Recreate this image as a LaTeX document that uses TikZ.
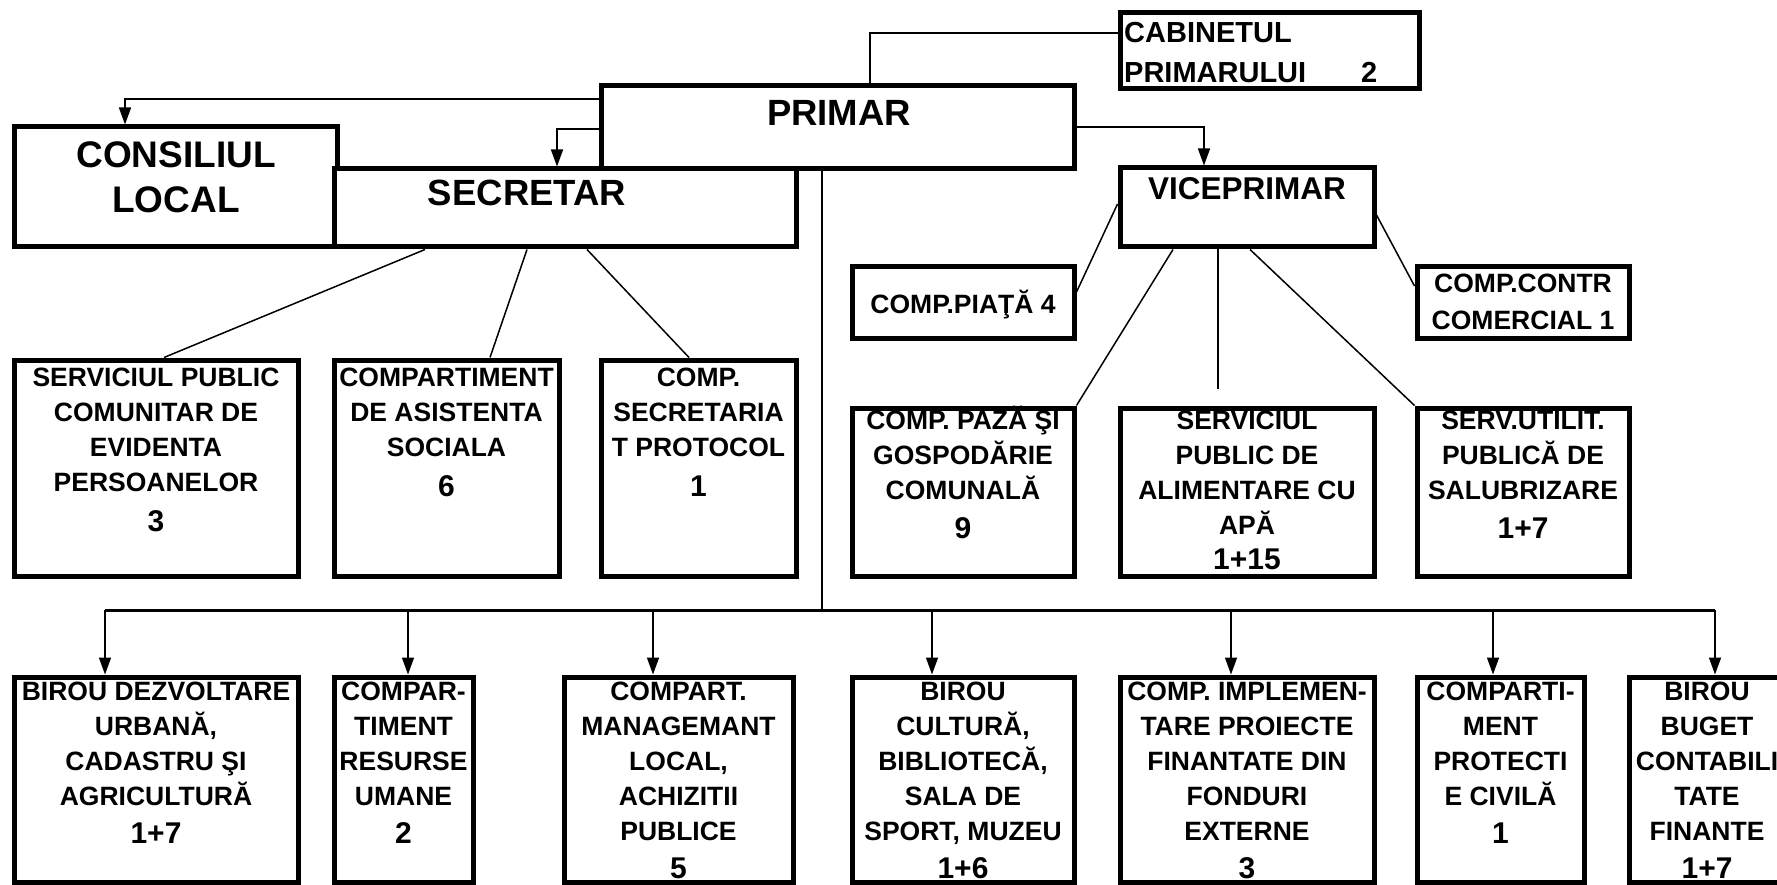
\documentclass[tikz,border=0pt]{standalone}
\usepackage{fontspec}
\setmainfont{Liberation Sans}
\usetikzlibrary{arrows.meta,calc}
\newcommand\nmb[1]{{\fontsize{30}{36}\selectfont #1}}
\newcommand\fl{\rule{0pt}{30pt}}
\begin{document}
\begin{tikzpicture}[x=1pt,y=-1pt,
  box/.style={draw, line width=5pt, fill=white, inner sep=0pt},
  lbl/.style={inner sep=0pt, align=center, anchor=north,
    font=\bfseries\fontsize{26.5}{35}\selectfont},
  big/.style={inner sep=0pt, anchor=base, font=\bfseries\fontsize{36.5}{45}\selectfont},
  conn/.style={line width=1.5pt},
  busline/.style={line width=3pt},
  arr/.style={line width=1.5pt, -{Triangle[length=17pt,width=12pt]}}]
\useasboundingbox (0,0) rectangle (1777,885);
\clip (0,0) rectangle (1777,885);
% boxes
\node[box, minimum width=299pt, minimum height=76pt] (cab) at (1269.5,51) {};
\node[box, minimum width=473pt, minimum height=83pt] (prim) at (837.5,127.5) {};
\node[box, minimum width=323pt, minimum height=120pt] (cons) at (175.5,187) {};
\node[box, minimum width=462pt, minimum height=78pt] (secretar) at (565,208) {};
\node[box, minimum width=254pt, minimum height=79pt] (vice) at (1247,207.5) {};
\node[box, minimum width=222pt, minimum height=71pt] (piata) at (963,302.5) {};
\node[box, minimum width=212pt, minimum height=71pt] (contr) at (1523,302.5) {};
\node[box, minimum width=284pt, minimum height=216pt] (serv) at (156,468) {};
\node[box, minimum width=225pt, minimum height=216pt] (asist) at (446.5,468) {};
\node[box, minimum width=195pt, minimum height=216pt] (secr) at (698.5,468) {};
\node[box, minimum width=222pt, minimum height=168pt] (paza) at (963,492) {};
\node[box, minimum width=254pt, minimum height=168pt] (apa) at (1247,492) {};
\node[box, minimum width=212pt, minimum height=168pt] (salub) at (1523,492) {};
\node[box, minimum width=284pt, minimum height=205pt] (urb) at (156,779.5) {};
\node[box, minimum width=139pt, minimum height=205pt] (ru) at (403.5,779.5) {};
\node[box, minimum width=229pt, minimum height=205pt] (man) at (678.5,779.5) {};
\node[box, minimum width=222pt, minimum height=205pt] (cult) at (963,779.5) {};
\node[box, minimum width=254pt, minimum height=205pt] (impl) at (1247,779.5) {};
\node[box, minimum width=167pt, minimum height=205pt] (prot) at (1500.5,779.5) {};
\node[box, minimum width=156pt, minimum height=205pt] (buget) at (1707,779.5) {};
% labels
\node[lbl, anchor=north west, align=left, font=\bfseries\fontsize{29}{40}\selectfont] (cab-t) at (1124,12) {\fl CABINETUL\\PRIMARULUI\hspace{55pt}2};
\node[big] (prim-t) at (839,126) {PRIMAR};
\node[lbl, font=\bfseries\fontsize{37}{45}\selectfont] (cons-t) at (176,137) {\fl CONSILIUL\\LOCAL};
\node[big] (secretar-t) at (527,206) {SECRETAR};
\node[big, font=\bfseries\fontsize{31.5}{40}\selectfont] (vice-t) at (1247,200) {VICEPRIMAR};
\node[big, font=\bfseries\fontsize{26.5}{35}\selectfont] (piata-t) at (963,313.5) {COMP.PIAŢĂ 4};
\node[lbl, font=\bfseries\fontsize{26.5}{37}\selectfont] (contr-t) at (1523,262.5) {\fl COMP.CONTR\\COMERCIAL 1};
\node[lbl] (serv-t) at (156,356.5) {\fl SERVICIUL PUBLIC\\COMUNITAR DE\\EVIDENTA\\PERSOANELOR\\[5pt]\nmb{3}};
\node[lbl] (asist-t) at (446.5,356.5) {\fl COMPARTIMENT\\DE ASISTENTA\\SOCIALA\\[5pt]\nmb{6}};
\node[lbl] (secr-t) at (698.5,356.5) {\fl COMP.\\SECRETARIA\\T PROTOCOL\\[5pt]\nmb{1}};
\node[lbl] (paza-t) at (963,399.5) {\fl COMP. PAZĂ ŞI\\GOSPODĂRIE\\COMUNALĂ\\[4pt]\nmb{9}};
\node[lbl] (apa-t) at (1247,399.5) {\fl SERVICIUL\\PUBLIC DE\\ALIMENTARE CU\\APĂ\\\nmb{1+15}};
\node[lbl] (salub-t) at (1523,399.5) {\fl SERV.UTILIT.\\PUBLICĂ DE\\SALUBRIZARE\\[4pt]\nmb{1+7}};
\node[lbl] (urb-t) at (156,670.5) {\fl BIROU DEZVOLTARE\\URBANĂ,\\CADASTRU ŞI\\AGRICULTURĂ\\[3pt]\nmb{1+7}};
\node[lbl] (ru-t) at (403.5,670.5) {\fl COMPAR-\\TIMENT\\RESURSE\\UMANE\\[3pt]\nmb{2}};
\node[lbl] (man-t) at (678.5,670.5) {\fl COMPART.\\MANAGEMANT\\LOCAL,\\ACHIZITII\\PUBLICE\\[3pt]\nmb{5}};
\node[lbl] (cult-t) at (963,670.5) {\fl BIROU\\CULTURĂ,\\BIBLIOTECĂ,\\SALA DE\\SPORT, MUZEU\\[3pt]\nmb{1+6}};
\node[lbl] (impl-t) at (1247,670.5) {\fl COMP. IMPLEMEN-\\TARE PROIECTE\\FINANTATE DIN\\FONDURI\\EXTERNE\\[3pt]\nmb{3}};
\node[lbl] (prot-t) at (1500.5,670.5) {\fl COMPARTI-\\MENT\\PROTECTI\\E CIVILĂ\\[3pt]\nmb{1}};
\node[lbl] (buget-t) at (1707,670.5) {\fl BIROU\\BUGET\\CONTABILI\\TATE\\FINANTE\\[3pt]\nmb{1+7}};
% connectors from PRIMAR
\draw[conn] ([xshift=32.5pt]prim.north) |- ([yshift=18pt]cab.west);
\draw[arr] ([yshift=28.5pt]prim.west) -| ([xshift=-50.5pt]cons.north);
\draw[arr] ([yshift=-1.5pt]prim.west) -| ([xshift=-8pt]secretar.north);
\draw[arr] ([yshift=0.5pt]prim.east) -| ([xshift=-43pt]vice.north);
\coordinate (bus) at (822,610);
\draw[conn] ([xshift=-15.5pt]prim.south) -- (bus);
\coordinate (busL) at ([xshift=-51pt]urb.north |- bus);
\coordinate (busR) at ([xshift=8pt]buget.north |- bus);
\draw[busline] (busL) -- (busR);
\draw[arr] ([xshift=-51pt]urb.north |- bus) -- ([xshift=-51pt]urb.north);
\draw[arr] ([xshift=4.5pt]ru.north |- bus) -- ([xshift=4.5pt]ru.north);
\draw[arr] ([xshift=-25.5pt]man.north |- bus) -- ([xshift=-25.5pt]man.north);
\draw[arr] ([xshift=-31pt]cult.north |- bus) -- ([xshift=-31pt]cult.north);
\draw[arr] ([xshift=-16pt]impl.north |- bus) -- ([xshift=-16pt]impl.north);
\draw[arr] ([xshift=-7.5pt]prot.north |- bus) -- ([xshift=-7.5pt]prot.north);
\draw[arr] ([xshift=8pt]buget.north |- bus) -- ([xshift=8pt]buget.north);
% connectors from SECRETAR
\draw[conn] ([xshift=-140pt]secretar.south) -- ([xshift=8pt]serv.north);
\draw[conn] ([xshift=-38pt]secretar.south) -- ([xshift=43.5pt]asist.north);
\draw[conn] ([xshift=22pt]secretar.south) -- ([xshift=-9.5pt]secr.north);
% connectors from VICEPRIMAR
\draw[conn] ([yshift=3.5pt]vice.west) -- ([yshift=10.5pt]piata.east);
\draw[conn] ([xshift=-74pt]vice.south) -- (paza.north east);
\draw[conn] ([xshift=-29pt]vice.south) -- ([xshift=-29pt,yshift=17pt]apa.north);
\draw[conn] ([xshift=3pt]vice.south) -- (salub.north west);
\draw[conn] ([yshift=-7.5pt]vice.east) -- ([yshift=16.5pt]contr.west);
\end{tikzpicture}
\end{document}
